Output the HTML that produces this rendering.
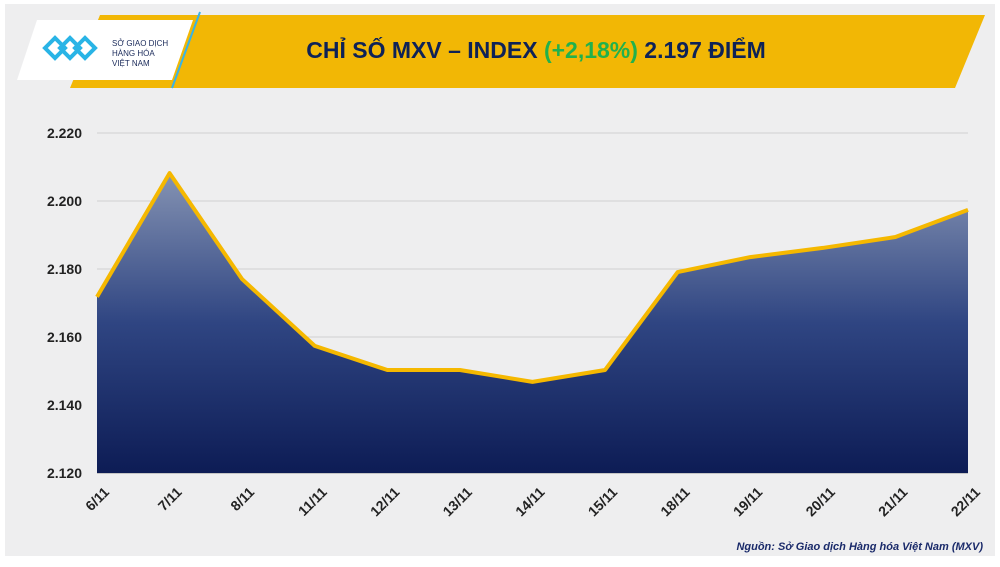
<!DOCTYPE html>
<html><head><meta charset="utf-8"><style>
body{margin:0;width:1000px;height:562px;background:#fff;overflow:hidden;font-family:"Liberation Sans",sans-serif}
</style></head><body>
<svg width="1000" height="562">
<defs>
<linearGradient id="ag" x1="0" y1="0" x2="0" y2="1"><stop offset="0" stop-color="#8593b3"/><stop offset="0.5" stop-color="#2f4582"/><stop offset="1" stop-color="#0d1c55"/></linearGradient>
</defs>
<rect x="5" y="4" width="990" height="552" fill="#eeeeef"/>
<polygon points="100,15 985,15 955,88 70,88" fill="#f2b705"/>
<line x1="200" y1="12" x2="172" y2="88" stroke="#39b3e6" stroke-width="2"/>
<polygon points="37,20 193,20 172,80 17,80" fill="#fff"/>
<g fill="none" stroke="#29b4e6" stroke-width="4">
<path d="M45,48 l10,-10 l10,10 l-10,10 z M60,48 l10,-10 l10,10 l-10,10 z M75,48 l10,-10 l10,10 l-10,10 z"/>
</g>
<text x="112" y="46" font-size="8" fill="#1a2a5a"><tspan x="112">SỞ GIAO DỊCH</tspan><tspan x="112" dy="10">HÀNG HÓA</tspan><tspan x="112" dy="10">VIỆT NAM</tspan></text>
<text x="536" y="58" font-size="23" font-weight="bold" text-anchor="middle" fill="#0e2257">CHỈ SỐ MXV – INDEX <tspan fill="#22b14c">(+2,18%)</tspan> 2.197 ĐIỂM</text>
<g id="grid"></g><g id="area"></g><g id="yl"></g><g id="xl"></g>
<text x="983" y="550" font-size="11" font-style="italic" font-weight="bold" text-anchor="end" fill="#1a2a6a">Nguồn: Sở Giao dịch Hàng hóa Việt Nam (MXV)</text>
</svg>
<script>
const categories=["6/11","7/11","8/11","11/11","12/11","13/11","14/11","15/11","18/11","19/11","20/11","21/11","22/11"];
const values=[2.1718,2.2082,2.177,2.1574,2.1503,2.1503,2.1468,2.1503,2.1791,2.1835,2.1862,2.1894,2.1974];
const yTicks=[2.120,2.140,2.160,2.180,2.200,2.220];
const yTickLabels=["2.120","2.140","2.160","2.180","2.200","2.220"];
const NS="http://www.w3.org/2000/svg";
const x0=97,x1=968,yb=473,yt=133,vmin=2.12,vmax=2.22;
const X=i=>x0+i*(x1-x0)/(categories.length-1);
const Y=v=>yb-(v-vmin)/(vmax-vmin)*(yb-yt);
function mk(t,a,p){const e=document.createElementNS(NS,t);for(const k in a)e.setAttribute(k,a[k]);document.getElementById(p).appendChild(e);return e;}
yTicks.forEach((v,i)=>{
 const l=mk('line',{x1:x0,x2:x1,y1:Y(v),y2:Y(v),stroke:i==0?'#999':'#d0d0d0','stroke-width':1},'grid');
 
 
 const t=mk('text',{x:82,y:Y(v)+5,'font-size':14,'font-weight':'bold','text-anchor':'end',fill:'#222'},'yl');
 t.textContent=yTickLabels[i];
 
 
});
let pts=values.map((v,i)=>X(i)+','+Y(v)).join(' ');
const a=mk('polygon',{points:X(0)+','+yb+' '+pts+' '+X(values.length-1)+','+yb,fill:'url(#ag)'},'area');


const ln=mk('polyline',{points:pts,fill:'none',stroke:'#f5b800','stroke-width':4,'stroke-linejoin':'round'},'area');


categories.forEach((c,i)=>{
 const px=X(i)+13,py=493;
 const t=mk('text',{x:px,y:py,'font-size':14,'font-weight':'bold','text-anchor':'end',fill:'#222',transform:`rotate(-45 ${px} ${py})`},'xl');
 t.textContent=c;
 
 
});
</script>
</body></html>
